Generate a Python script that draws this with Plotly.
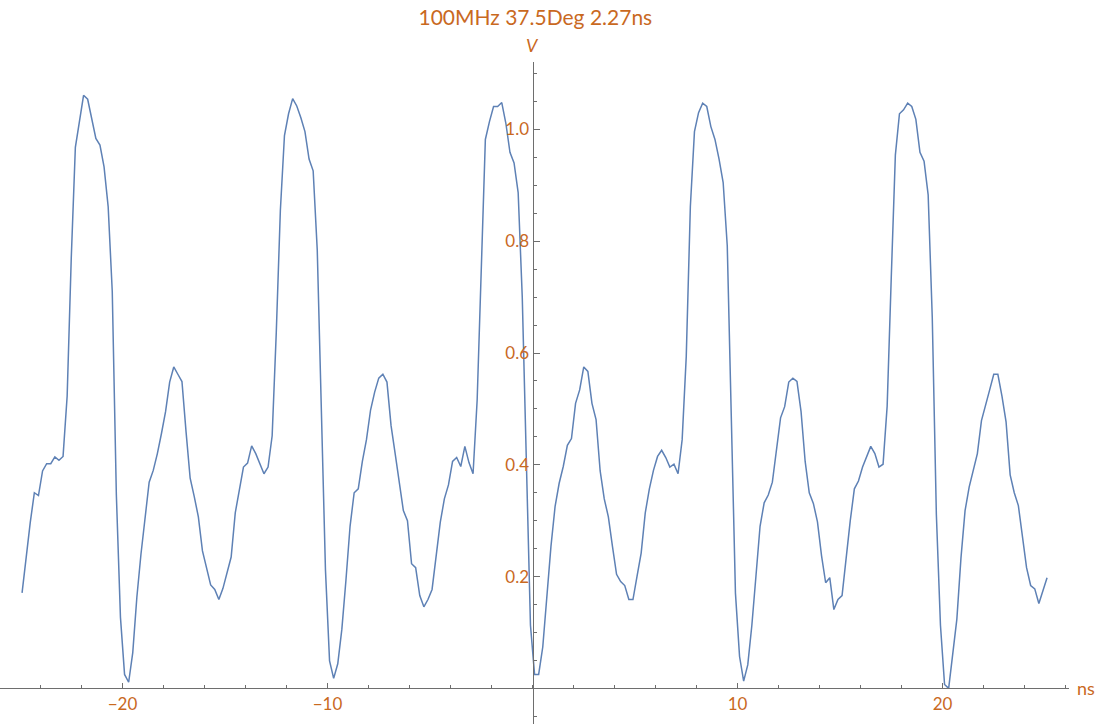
import plotly.graph_objects as go

# sampled waveform: 0.2 ns steps starting at -24.9 ns
t_start = -24.9
t_step = 0.2

volts = [
    0.171, 0.240, 0.297, 0.350, 0.345, 0.389, 0.402, 0.402, 0.414, 0.408,
    0.415, 0.523, 0.770, 0.968, 1.018, 1.061, 1.054, 1.021, 0.984, 0.972,
    0.933, 0.862, 0.710, 0.346, 0.127, 0.025, 0.011, 0.064, 0.163, 0.240,
    0.304, 0.369, 0.390, 0.420, 0.456, 0.495, 0.548, 0.575, 0.562, 0.549,
    0.459, 0.376, 0.343, 0.307, 0.246, 0.216, 0.185, 0.177, 0.159, 0.179,
    0.205, 0.235, 0.314, 0.353, 0.396, 0.403, 0.434, 0.420, 0.401, 0.384,
    0.396, 0.452,
    0.636, 0.855, 0.989, 1.028, 1.055, 1.042, 1.021, 0.996, 0.947, 0.926,
    0.784, 0.502, 0.212, 0.049, 0.018, 0.044, 0.106, 0.194, 0.290, 0.350,
    0.357, 0.406, 0.445, 0.498, 0.530, 0.555, 0.562, 0.548, 0.470, 0.420,
    0.364, 0.318, 0.300, 0.223, 0.216, 0.166, 0.146, 0.159, 0.177, 0.240,
    0.297, 0.339, 0.364, 0.406, 0.413, 0.397, 0.433, 0.404, 0.384, 0.516,
    0.756, 0.982, 1.014, 1.041, 1.041, 1.048, 1.011, 0.959, 0.940, 0.887,
    0.700, 0.382, 0.113, 0.025, 0.025,
    0.074, 0.170, 0.254, 0.325, 0.367, 0.397, 0.435, 0.447, 0.510, 0.534,
    0.575, 0.567, 0.510, 0.481, 0.389, 0.339, 0.307, 0.254, 0.204, 0.191,
    0.184, 0.159, 0.159, 0.201, 0.242, 0.314, 0.357, 0.390, 0.415, 0.426,
    0.413, 0.396, 0.401, 0.384, 0.445, 0.594, 0.862, 0.996, 1.030, 1.047,
    1.041, 1.005, 0.982, 0.947, 0.905, 0.792, 0.452, 0.170, 0.057, 0.013,
    0.042, 0.113, 0.201, 0.290, 0.332, 0.346, 0.369, 0.431, 0.484, 0.504,
    0.548, 0.555, 0.549,
    0.495, 0.406, 0.350, 0.331, 0.298, 0.237, 0.189, 0.198, 0.141, 0.159,
    0.166, 0.237, 0.300, 0.357, 0.371, 0.396, 0.416, 0.433, 0.420, 0.396,
    0.401, 0.505, 0.735, 0.954, 1.028, 1.035, 1.047, 1.041, 1.018, 0.959,
    0.943, 0.883, 0.664, 0.311, 0.113, 0.007, 0.000, 0.057, 0.124, 0.233,
    0.318, 0.360, 0.392, 0.420, 0.479, 0.509, 0.534, 0.562, 0.562, 0.523,
    0.477, 0.382, 0.350, 0.327, 0.269, 0.216, 0.184, 0.178, 0.152, 0.173,
    0.198,
]
times = [round(t_start + t_step * i, 2) for i in range(len(volts))]

x_ticks = [-20, -10, 10, 20]
x_tick_text = ["\u221220", "\u221210", "10", "20"]
y_ticks = [0.2, 0.4, 0.6, 0.8, 1.0]
y_tick_text = ["0.2", "0.4", "0.6", "0.8", "1.0"]

title_text = "100MHz 37.5Deg 2.27ns"
x_label = "ns"
y_label = "V"

label_color = "#c9691f"
axis_color = "#6e6e6e"
font_family = "Lato, 'Open Sans', sans-serif"

x_range = [-25.976, 26.17]
y_range = [-0.0637, 1.1206]

fig = go.Figure()
fig.add_trace(go.Scatter(
    x=times, y=volts, mode="lines",
    line=dict(color="#5e81b5", width=1.5),
    hoverinfo="x+y",
))

fig.update_layout(
    width=1097, height=724,
    margin=dict(l=0, r=28, t=62, b=0, autoexpand=False),
    paper_bgcolor="white", plot_bgcolor="white",
    showlegend=False,
    font=dict(family=font_family, color=label_color, size=17),
    title=dict(text=title_text, x=0.488, xanchor="center", y=0.976, yanchor="middle",
               font=dict(size=21, color=label_color, family=font_family)),
    xaxis=dict(
        range=x_range, showgrid=False, zeroline=False, automargin=False,
        showline=True, linecolor=axis_color, linewidth=1.2,
        anchor="free", position=(0 - y_range[0]) / (y_range[1] - y_range[0]),
        tickmode="array", tickvals=x_ticks, ticktext=x_tick_text,
        ticks="inside", ticklen=5, tickcolor=axis_color, tickwidth=1,
        tickfont=dict(size=17, color=label_color),
        minor=dict(tickmode="linear", tick0=0, dtick=2, ticks="inside",
                   ticklen=3, tickcolor=axis_color, showgrid=False),
    ),
    yaxis=dict(
        range=y_range, showgrid=False, zeroline=False, automargin=False,
        showline=True, linecolor=axis_color, linewidth=1.2,
        anchor="free", position=(0 - x_range[0]) / (x_range[1] - x_range[0]),
        tickmode="array", tickvals=y_ticks, ticktext=y_tick_text,
        ticks="inside", ticklen=6, tickcolor=axis_color, tickwidth=1,
        tickfont=dict(size=17, color=label_color),
        minor=dict(tickmode="linear", tick0=0, dtick=0.05, ticks="inside",
                   ticklen=3, tickcolor=axis_color, showgrid=False),
    ),
)

# axis labels at the ends of the axes, Mathematica style
fig.add_annotation(x=0, y=1, xref="x", yref="paper", yanchor="middle", yshift=17,
                   text="<i>" + y_label + "</i>", showarrow=False,
                   font=dict(size=18, color=label_color, family=font_family))
fig.add_annotation(x=1, y=0, xref="paper", yref="y", xanchor="left", xshift=6,
                   yanchor="middle", text=x_label, showarrow=False,
                   font=dict(size=18, color=label_color, family=font_family))

# drop the default body margin so the figure sits at the window's corner
fig.write_html("out.html", config={"displayModeBar": False},
               post_script="document.body.style.margin='0';")
